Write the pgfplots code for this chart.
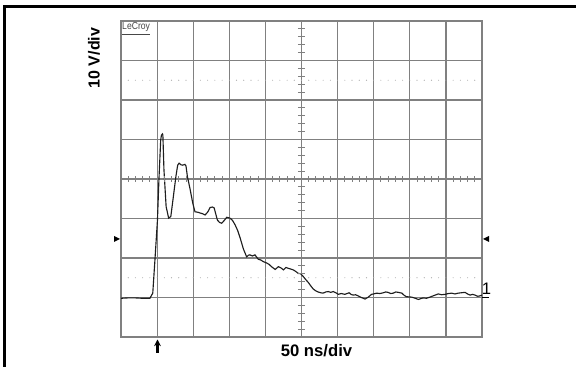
\documentclass[border=0pt]{standalone}
\usepackage{pgfplots}
\pgfplotsset{compat=1.18}
\usetikzlibrary{arrows.meta}
\usepackage{fontspec}
\setmainfont{Liberation Sans}
\definecolor{gridc}{RGB}{128,128,128}
\definecolor{dotc}{RGB}{170,170,170}
\definecolor{trace}{RGB}{30,30,30}
\begin{document}
\begin{tikzpicture}
\useasboundingbox (0pt,0pt) rectangle (432pt,275.25pt);
\begin{axis}[
  at={(90.75pt,22.5pt)}, anchor=south west,
  scale only axis, width=270.75pt, height=237pt,
  xmin=0, xmax=10, ymin=0, ymax=8,
  xtick={1,...,9}, ytick={1,...,7},
  xticklabels={}, yticklabels={},
  major tick length=0pt,
  grid=major,
  grid style={gridc, line width=0.9pt},
  axis line style={gridc, line width=0.9pt},
  clip=false,
]
\addplot[trace, line width=0.85pt, mark=none] coordinates {
(0,0.98) (0.2,0.99) (0.39,0.99) (0.6,0.98) (0.80,0.98) (0.88,1.11) (0.94,1.95)
(1.01,2.96) (1.05,3.97) (1.10,4.99) (1.12,5.11) (1.15,5.14) (1.16,5.11)
(1.19,4.23) (1.25,3.30) (1.32,3.01) (1.38,3.05) (1.45,3.55) (1.52,4.06)
(1.57,4.35) (1.61,4.40) (1.66,4.36) (1.71,4.35) (1.77,4.37) (1.80,4.33)
(1.84,4.06) (1.91,3.76) (1.99,3.38) (2.05,3.17) (2.12,3.16) (2.19,3.14)
(2.26,3.12) (2.33,3.09) (2.40,3.16) (2.47,3.28) (2.53,3.29) (2.58,3.27)
(2.67,2.96) (2.73,2.90) (2.79,2.88) (2.86,2.95) (2.93,3.03) (3.02,3.01)
(3.09,2.95) (3.16,2.84) (3.23,2.70) (3.30,2.51) (3.39,2.23) (3.48,2.03)
(3.53,2.07) (3.57,2.08) (3.64,2.05) (3.71,2.08) (3.80,1.97) (3.87,1.95)
(3.94,1.91) (4.04,1.87) (4.10,1.84) (4.17,1.78) (4.27,1.71) (4.36,1.78)
(4.43,1.75) (4.50,1.70) (4.57,1.76) (4.63,1.74) (4.70,1.72) (4.77,1.70)
(4.84,1.66) (4.91,1.61) (4.98,1.60) (5.05,1.53) (5.12,1.45) (5.19,1.38)
(5.26,1.29) (5.32,1.22) (5.39,1.17) (5.46,1.14) (5.53,1.12) (5.60,1.11)
(5.67,1.14) (5.74,1.15) (5.81,1.13) (5.88,1.15) (5.95,1.12) (6.02,1.08)
(6.10,1.10) (6.20,1.08) (6.26,1.10) (6.32,1.12) (6.37,1.08) (6.43,1.06)
(6.50,1.07) (6.57,1.04) (6.66,1.00) (6.76,0.96) (6.85,1.01) (6.94,1.08)
(7.00,1.09) (7.08,1.11) (7.17,1.10) (7.27,1.12) (7.33,1.14) (7.40,1.13)
(7.47,1.10) (7.54,1.11) (7.61,1.14) (7.68,1.13) (7.78,1.11) (7.85,1.05)
(7.91,1.02) (8.05,1.01) (8.15,0.98) (8.24,0.95) (8.30,0.97) (8.37,0.99)
(8.46,0.98) (8.56,1.01) (8.67,1.05) (8.79,1.09) (8.88,1.07) (8.98,1.08)
(9.07,1.10) (9.16,1.11) (9.25,1.09) (9.34,1.11) (9.43,1.12) (9.53,1.13)
(9.60,1.09) (9.67,1.06) (9.74,1.08) (9.81,1.06) (9.88,1.03) (9.94,1.04) (10,1.06)
};
\end{axis}
\begin{scope}[x=0.75pt,y=0.75pt]
% dotted reference lines
\foreach \i in {1,...,49} {
  \fill[dotc] (121+7.22*\i,89.25) circle (0.55);
  \fill[dotc] (121+7.22*\i,286.75) circle (0.55);
}
% centre cross ticks
\foreach \i in {1,...,49} {
  \draw[gridc, line width=0.7pt] (121+7.22*\i,185.3) -- (121+7.22*\i,190.7);
}
\foreach \i in {1,...,39} {
  \draw[gridc, line width=0.7pt] (297.8,30+7.9*\i) -- (305.2,30+7.9*\i);
}
% outer frame
\draw[black, line width=2.3pt] (4.5,-10) -- (4.5,360.5) -- (590,360.5);
% trigger level markers
\fill[black] (114,131) -- (120,128) -- (114,125) -- cycle;
\fill[black] (489,131) -- (483,128) -- (489,125) -- cycle;
% channel 1 marker
\draw[black, line width=1pt] (481.5,69.5) -- (489,69.5);
\node[anchor=south west, inner sep=0pt, font=\fontsize{12.5}{13}\selectfont] at (481.5,72) {1};
% trigger position arrow
\draw[black, line width=1.6pt, -{Stealth[length=5pt,width=5pt]}] (157.5,14) -- (157.5,27.5);
% LeCroy logo
\node[anchor=north west, inner sep=0pt, text=black!72, xscale=0.85,
      font=\fontsize{7.6}{8}\selectfont] at (122,344.5) {\underline{LeCroy}};
% axis labels
\node[font=\bfseries\fontsize{12.5}{14}\selectfont, anchor=center] at (316.5,16.5) {50 ns/div};
\node[font=\bfseries\fontsize{12}{14}\selectfont, rotate=90, anchor=center] at (94,309) {10 V/div};
\end{scope}
\end{tikzpicture}
\end{document}
